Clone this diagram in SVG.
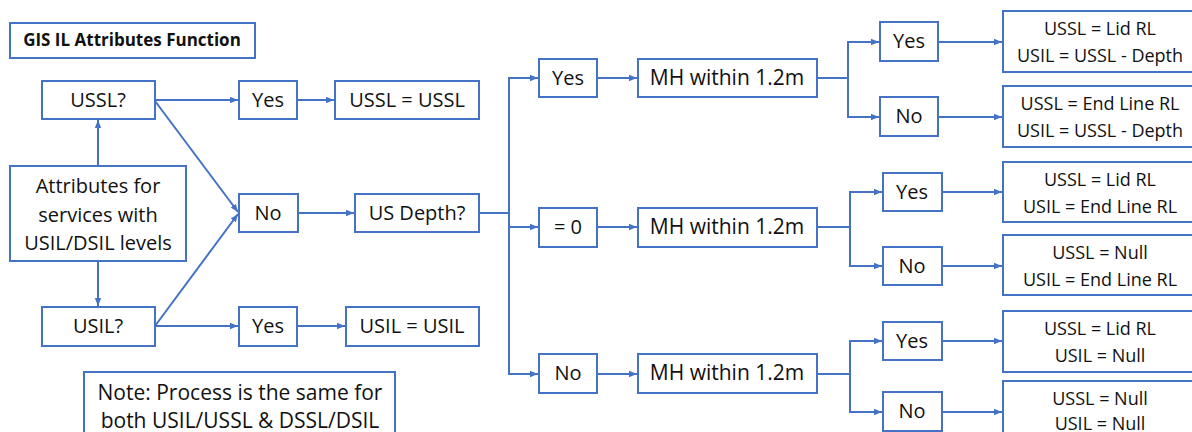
<svg xmlns="http://www.w3.org/2000/svg" width="1192" height="432" viewBox="0 0 1192 432">
<defs>
<marker id="ah" viewBox="0 0 10 10" refX="10" refY="5" markerWidth="8" markerHeight="8" markerUnits="userSpaceOnUse" orient="auto">
<path d="M0,1 L10,5 L0,9 Z" fill="#4472C4"/>
</marker>
<style>
rect{fill:#fff;stroke:#4472C4;stroke-width:2}
text{font-family:"Open Sans","Liberation Sans",sans-serif;font-size:20px;fill:#111;text-anchor:middle}
.t{font-weight:bold;font-size:17px}
.m{font-size:21px}
.r{font-size:18px}
.c line,.c path{stroke:#4472C4;stroke-width:2;fill:none}
.a{marker-end:url(#ah)}
</style>
</defs>
<rect width="1192" height="432" style="fill:#fff;stroke:none"/>
<g id="title"><rect x="10" y="23" width="245" height="35"/><text class="t" x="132" y="46">GIS IL Attributes Function</text></g>
<g id="ussl"><rect x="42" y="81" width="113" height="38"/><text x="98" y="107">USSL?</text></g>
<g id="attrs"><rect x="10" y="166" width="176" height="95"/><text x="98" y="193">Attributes for</text><text x="98" y="222">services with</text><text x="98" y="250">USIL/DSIL levels</text></g>
<g id="usil"><rect x="42" y="307" width="113" height="39"/><text x="98" y="333">USIL?</text></g>
<g id="yes1"><rect x="239" y="81" width="58" height="38"/><text x="268" y="107">Yes</text></g>
<g id="no1"><rect x="239" y="194" width="59" height="38"/><text x="268" y="220">No</text></g>
<g id="yes2"><rect x="239" y="307" width="58" height="39"/><text x="268" y="333">Yes</text></g>
<g id="ussleq"><rect x="335" y="81" width="144" height="38"/><text x="407" y="107">USSL = USSL</text></g>
<g id="usdepth"><rect x="355" y="194" width="124" height="38"/><text x="417" y="220">US Depth?</text></g>
<g id="usileq"><rect x="346" y="307" width="133" height="39"/><text x="412" y="333">USIL = USIL</text></g>
<g id="note"><rect x="84" y="372" width="311" height="70"/><text class="m" x="240" y="400">Note: Process is the same for</text><text class="m" x="240" y="428">both USIL/USSL &amp; DSSL/DSIL</text></g>
<g id="yes3"><rect x="539" y="59" width="58" height="38"/><text x="568" y="85">Yes</text></g>
<g id="zero"><rect x="539" y="208" width="58" height="39"/><text x="568" y="234">= 0</text></g>
<g id="no3"><rect x="539" y="354" width="58" height="39"/><text x="568" y="380">No</text></g>
<g id="mh1"><rect x="638" y="59" width="179" height="38"/><text class="m" x="727" y="85">MH within 1.2m</text></g>
<g id="mh2"><rect x="638" y="208" width="179" height="39"/><text class="m" x="727" y="234">MH within 1.2m</text></g>
<g id="mh3"><rect x="638" y="354" width="179" height="39"/><text class="m" x="727" y="380">MH within 1.2m</text></g>
<g id="y4"><rect x="880" y="22" width="58" height="39"/><text x="909" y="48">Yes</text></g>
<g id="n4"><rect x="880" y="97" width="58" height="39"/><text x="909" y="123">No</text></g>
<g id="y5"><rect x="883" y="173" width="59" height="38"/><text x="912" y="199">Yes</text></g>
<g id="n5"><rect x="883" y="247" width="59" height="38"/><text x="912" y="273">No</text></g>
<g id="y6"><rect x="883" y="322" width="59" height="38"/><text x="912" y="348">Yes</text></g>
<g id="n6"><rect x="883" y="392" width="59" height="39"/><text x="912" y="418">No</text></g>
<g id="r1"><rect x="1003" y="11" width="194" height="61"/><text class="r" x="1100" y="35">USSL = Lid RL</text><text class="r" x="1100" y="62">USIL = USSL - Depth</text></g>
<g id="r2"><rect x="1003" y="86" width="194" height="61"/><text class="r" x="1100" y="110">USSL = End Line RL</text><text class="r" x="1100" y="137">USIL = USSL - Depth</text></g>
<g id="r3"><rect x="1003" y="162" width="194" height="60"/><text class="r" x="1100" y="186">USSL = Lid RL</text><text class="r" x="1100" y="213">USIL = End Line RL</text></g>
<g id="r4"><rect x="1003" y="235" width="194" height="60"/><text class="r" x="1100" y="259">USSL = Null</text><text class="r" x="1100" y="286">USIL = End Line RL</text></g>
<g id="r5"><rect x="1003" y="311" width="194" height="61"/><text class="r" x="1100" y="335">USSL = Lid RL</text><text class="r" x="1100" y="362">USIL = Null</text></g>
<g id="r6"><rect x="1003" y="381" width="194" height="60"/><text class="r" x="1100" y="405">USSL = Null</text><text class="r" x="1100" y="430">USIL = Null</text></g>
<g class="c" id="connectors">
<line class="a" x1="98" y1="166" x2="98" y2="120"/>
<line class="a" x1="98" y1="261" x2="98" y2="306"/>
<line class="a" x1="155" y1="100" x2="238" y2="100"/>
<line class="a" x1="155" y1="101" x2="238" y2="212"/>
<line class="a" x1="155" y1="326" x2="238" y2="214"/>
<line class="a" x1="155" y1="326" x2="238" y2="326"/>
<line class="a" x1="297" y1="100" x2="334" y2="100"/>
<line class="a" x1="298" y1="213" x2="354" y2="213"/>
<line class="a" x1="297" y1="326" x2="345" y2="326"/>
<line x1="479" y1="213" x2="509" y2="213"/>
<path d="M538,78 H509 V374 H538"/>
<line class="a" x1="509" y1="78" x2="538" y2="78"/>
<line class="a" x1="509" y1="227" x2="538" y2="227"/>
<line class="a" x1="509" y1="374" x2="538" y2="374"/>
<line class="a" x1="597" y1="78" x2="637" y2="78"/>
<line class="a" x1="597" y1="227" x2="637" y2="227"/>
<line class="a" x1="597" y1="374" x2="637" y2="374"/>
<line x1="817" y1="78" x2="848" y2="78"/>
<path d="M879,42 H848 V117 H879"/>
<line class="a" x1="848" y1="42" x2="879" y2="42"/>
<line class="a" x1="848" y1="117" x2="879" y2="117"/>
<line x1="817" y1="227" x2="850" y2="227"/>
<path d="M882,192 H850 V266 H882"/>
<line class="a" x1="850" y1="192" x2="882" y2="192"/>
<line class="a" x1="850" y1="266" x2="882" y2="266"/>
<line x1="817" y1="374" x2="850" y2="374"/>
<path d="M882,341 H850 V412 H882"/>
<line class="a" x1="850" y1="341" x2="882" y2="341"/>
<line class="a" x1="850" y1="412" x2="882" y2="412"/>
<line class="a" x1="938" y1="42" x2="1002" y2="42"/>
<line class="a" x1="938" y1="117" x2="1002" y2="117"/>
<line class="a" x1="942" y1="192" x2="1002" y2="192"/>
<line class="a" x1="942" y1="266" x2="1002" y2="266"/>
<line class="a" x1="942" y1="341" x2="1002" y2="341"/>
<line class="a" x1="942" y1="412" x2="1002" y2="412"/>
</g>
</svg>
